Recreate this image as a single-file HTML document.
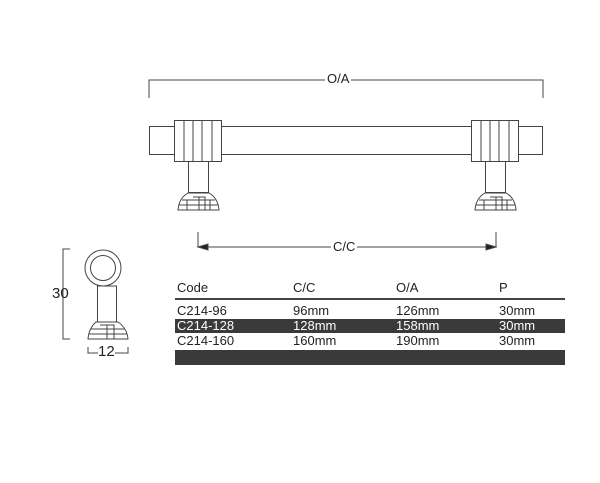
<!DOCTYPE html>
<html><head><style>
body{margin:0;background:#fff;width:600px;height:483px;overflow:hidden;position:relative;font-family:"Liberation Sans",sans-serif}
svg{position:absolute;left:0;top:0}
.t{position:absolute;font-size:13px;color:#222;line-height:14px}
.w{color:#fff}
</style></head><body>
<svg width="600" height="483" viewBox="0 0 600 483" fill="none" stroke="#444" stroke-width="1">
<defs>
<g id="post">
<rect x="174.5" y="120.5" width="47" height="41" fill="#fff"/>
<path d="M184 121V161M193 121V161M202 121V161M212 121V161"/>
<rect x="188.5" y="161.5" width="20" height="31"/>
<path d="M188 193H209Q218 198 219 210H178Q179 198 188 193Z" fill="#fff"/>
<path d="M182 200H215M179 205H218M193 197H205V210M199 197V210M187 200V210M210 200V210"/>
</g>
</defs>
<path d="M149 98V80H543V98" />
<rect x="149.5" y="126.5" width="393" height="28" fill="#fff"/>
<use href="#post"/>
<use href="#post" transform="translate(297 0)"/>
<path d="M198 232V247H496V232"/>
<path d="M198 247l10-3v6z M496 247l-10-3v6z" fill="#222"/>
<circle cx="103" cy="268" r="18" fill="#fff"/>
<circle cx="103" cy="268" r="12.5"/>
<rect x="97.5" y="286" width="19" height="36" fill="#fff"/>
<path d="M96 322H118Q127 328 128 339H88Q89 328 96 322Z" fill="#fff"/>
<path d="M91 329H125M89 334H127M100 325H114V339M107 325V339"/>
<path d="M70 249H63V339H70"/>
<path d="M88 347V353H128V347"/>
</svg>
<div style="position:absolute;left:325px;top:72px;background:#fff;padding:0 2px" class="t">O/A</div>
<div style="position:absolute;left:331px;top:240px;background:#fff;padding:0 2px" class="t">C/C</div>
<div class="t" style="left:52px;top:287px;font-size:15px">30</div>
<div class="t" style="left:98px;top:345px;font-size:15px;background:#fff">12</div>
<div style="position:absolute;left:175px;top:298px;width:390px;height:2px;background:#444"></div>
<div style="position:absolute;left:175px;top:319px;width:390px;height:14px;background:#3a3a3a"></div>
<div style="position:absolute;left:175px;top:350px;width:390px;height:15px;background:#3a3a3a"></div>
<div class="t" style="left:177px;top:281px">Code</div><div class="t" style="left:293px;top:281px">C/C</div><div class="t" style="left:396px;top:281px">O/A</div><div class="t" style="left:499px;top:281px">P</div>
<div class="t" style="left:177px;top:304px">C214-96</div><div class="t" style="left:293px;top:304px">96mm</div><div class="t" style="left:396px;top:304px">126mm</div><div class="t" style="left:499px;top:304px">30mm</div>
<div class="t w" style="left:177px;top:319px">C214-128</div><div class="t w" style="left:293px;top:319px">128mm</div><div class="t w" style="left:396px;top:319px">158mm</div><div class="t w" style="left:499px;top:319px">30mm</div>
<div class="t" style="left:177px;top:334px">C214-160</div><div class="t" style="left:293px;top:334px">160mm</div><div class="t" style="left:396px;top:334px">190mm</div><div class="t" style="left:499px;top:334px">30mm</div>
</body></html>
